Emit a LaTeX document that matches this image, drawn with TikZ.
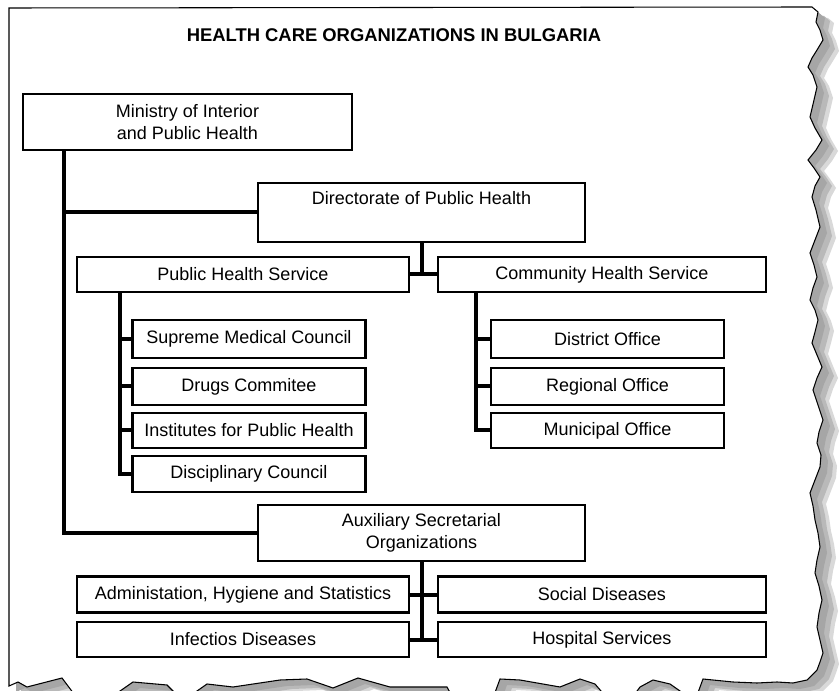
\documentclass[tikz,border=0pt]{standalone}
\usepackage{fontspec}
\setmainfont{Liberation Sans}
\usetikzlibrary{calc}
\begin{document}
\begin{tikzpicture}[x=0.75pt,y=-0.75pt,
  box/.style={draw=black,line width=1.8pt,fill=white,inner xsep=1pt,inner ysep=0pt,
    font=\fontsize{13.5}{16.5}\selectfont,align=center},
  wide/.style={box,minimum width=249pt},
  wider/.style={box,minimum width=246pt},
  mid/.style={box,minimum width=245.25pt},
  small/.style={box,minimum width=174.5pt},
  conn/.style={draw=black,line width=3pt},
  titlestyle/.style={font=\fontsize{13.8}{16}\selectfont\bfseries,inner sep=0pt}]
\useasboundingbox (0,0) rectangle (839,691);
\clip (0,0) rectangle (839,691);
\fill[white] (0,0) rectangle (839,691);
\def\paperpath{(9,8) -- (812,7) -- (818,12) -- (816,22) -- (820,30) -- (823,40) -- (817,50) -- (812,58) -- (808,67) -- (813,75) -- (817,87) -- (814,100) -- (810,117) -- (815,128) -- (822,140) -- (816,150) -- (808,160) -- (814,168) -- (820,177) -- (815,186) -- (812,197) -- (816,210) -- (820,227) -- (815,240) -- (810,253) -- (814,265) -- (817,277) -- (813,288) -- (810,300) -- (815,310) -- (818,320) -- (815,332) -- (812,343) -- (817,355) -- (822,367) -- (817,378) -- (813,390) -- (818,405) -- (823,420) -- (819,432) -- (817,443) -- (821,455) -- (820,467) -- (815,480) -- (810,493) -- (813,506) -- (815,520) -- (818,533) -- (820,547) -- (817,560) -- (815,573) -- (819,586) -- (822,600) -- (819,613) -- (817,627) -- (820,640) -- (823,653) -- (820,662) -- (817,670) -- (807,680) -- (793,683) -- (777,682) -- (757,683) -- (733,682) -- (703,679) -- (696,698) -- (690,698) -- (670,684) -- (653,680) -- (640,687) -- (632,698) -- (607,698) -- (595,684) -- (580,679) -- (560,687) -- (520,680) -- (500,679) -- (493,698) -- (453,698) -- (447,687) -- (390,687) -- (358,678) -- (333,688) -- (307,679) -- (280,680) -- (233,687) -- (207,684) -- (187,698) -- (180,698) -- (167,685) -- (133,682) -- (110,698) -- (77,698) -- (62,678) -- (27,687) -- (18,682) -- (9,686) -- cycle}
\fill[gray!30] [shift={(16,11)}] \paperpath;
\fill[gray!55] [shift={(12,9)}] \paperpath;
\fill[gray!70] [shift={(7,6)}] \paperpath;
\filldraw[fill=white,draw=black,line width=0.8pt] \paperpath;

\node[titlestyle,anchor=base] (title) at (394,42) {HEALTH CARE ORGANIZATIONS IN BULGARIA};

\node[box,minimum width=246.75pt,minimum height=42pt] (min) at (187.5,122) {Ministry of Interior\\and Public Health};
\node[mid,text height=16.5pt,text depth=27.75pt] (dir) at (421.5,212.5) {Directorate of Public Health};
\node[wide,minimum height=26.25pt] (phs) at (243,274.5) {Public Health Service};
\node[wider,minimum height=26.25pt] (chs) at (602,274.5) {Community Health Service};

\node[small,minimum height=28.5pt] (s1) at (249,339) {Supreme Medical Council};
\node[small,minimum height=27.75pt] (s2) at (249,386.5) {Drugs Commitee};
\node[small,minimum height=26.25pt] (s3) at (249,430.5) {Institutes for Public Health};
\node[small,minimum height=27pt] (s4) at (249,474) {Disciplinary Council};

\node[small,minimum height=28.5pt] (d1) at (607.5,339) {District Office};
\node[small,minimum height=27.75pt] (d2) at (607.5,386.5) {Regional Office};
\node[small,minimum height=26.25pt] (d3) at (607.5,430.5) {Municipal Office};

\node[mid,minimum height=42pt] (aux) at (421.5,533) {Auxiliary Secretarial\\Organizations};
\node[wide,minimum height=27pt] (a1) at (243,594.5) {Administation, Hygiene and Statistics};
\node[wider,minimum height=27pt] (a2) at (602,594.5) {Social Diseases};
\node[wide,minimum height=26.25pt] (b1) at (243,639.5) {Infectios Diseases};
\node[wider,minimum height=26.25pt] (b2) at (602,639.5) {Hospital Services};

% trunk
\draw[conn] ($(min.south west)+(42,0)$) coordinate (t0) |- (aux.west);
\draw[conn] (t0 |- dir.west) -- (dir.west);
% directorate
\draw[conn] (dir.south) -- (dir.south |- phs.east);
\draw[conn] (phs.east) -- (chs.west);
% public health service
\draw[conn] ($(phs.south west)+(44,0)$) coordinate (p0) |- (s4.west);
\draw[conn] (p0 |- s1.west) -- (s1.west);
\draw[conn] (p0 |- s2.west) -- (s2.west);
\draw[conn] (p0 |- s3.west) -- (s3.west);
% community health service
\draw[conn] ($(chs.south west)+(39,0)$) coordinate (c0) |- (d3.west);
\draw[conn] (c0 |- d1.west) -- (d1.west);
\draw[conn] (c0 |- d2.west) -- (d2.west);
% auxiliary
\draw[conn] (aux.south) -- (aux.south |- b1.east);
\draw[conn] (a1.east) -- (a2.west);
\draw[conn] (b1.east) -- (b2.west);
\end{tikzpicture}
\end{document}
